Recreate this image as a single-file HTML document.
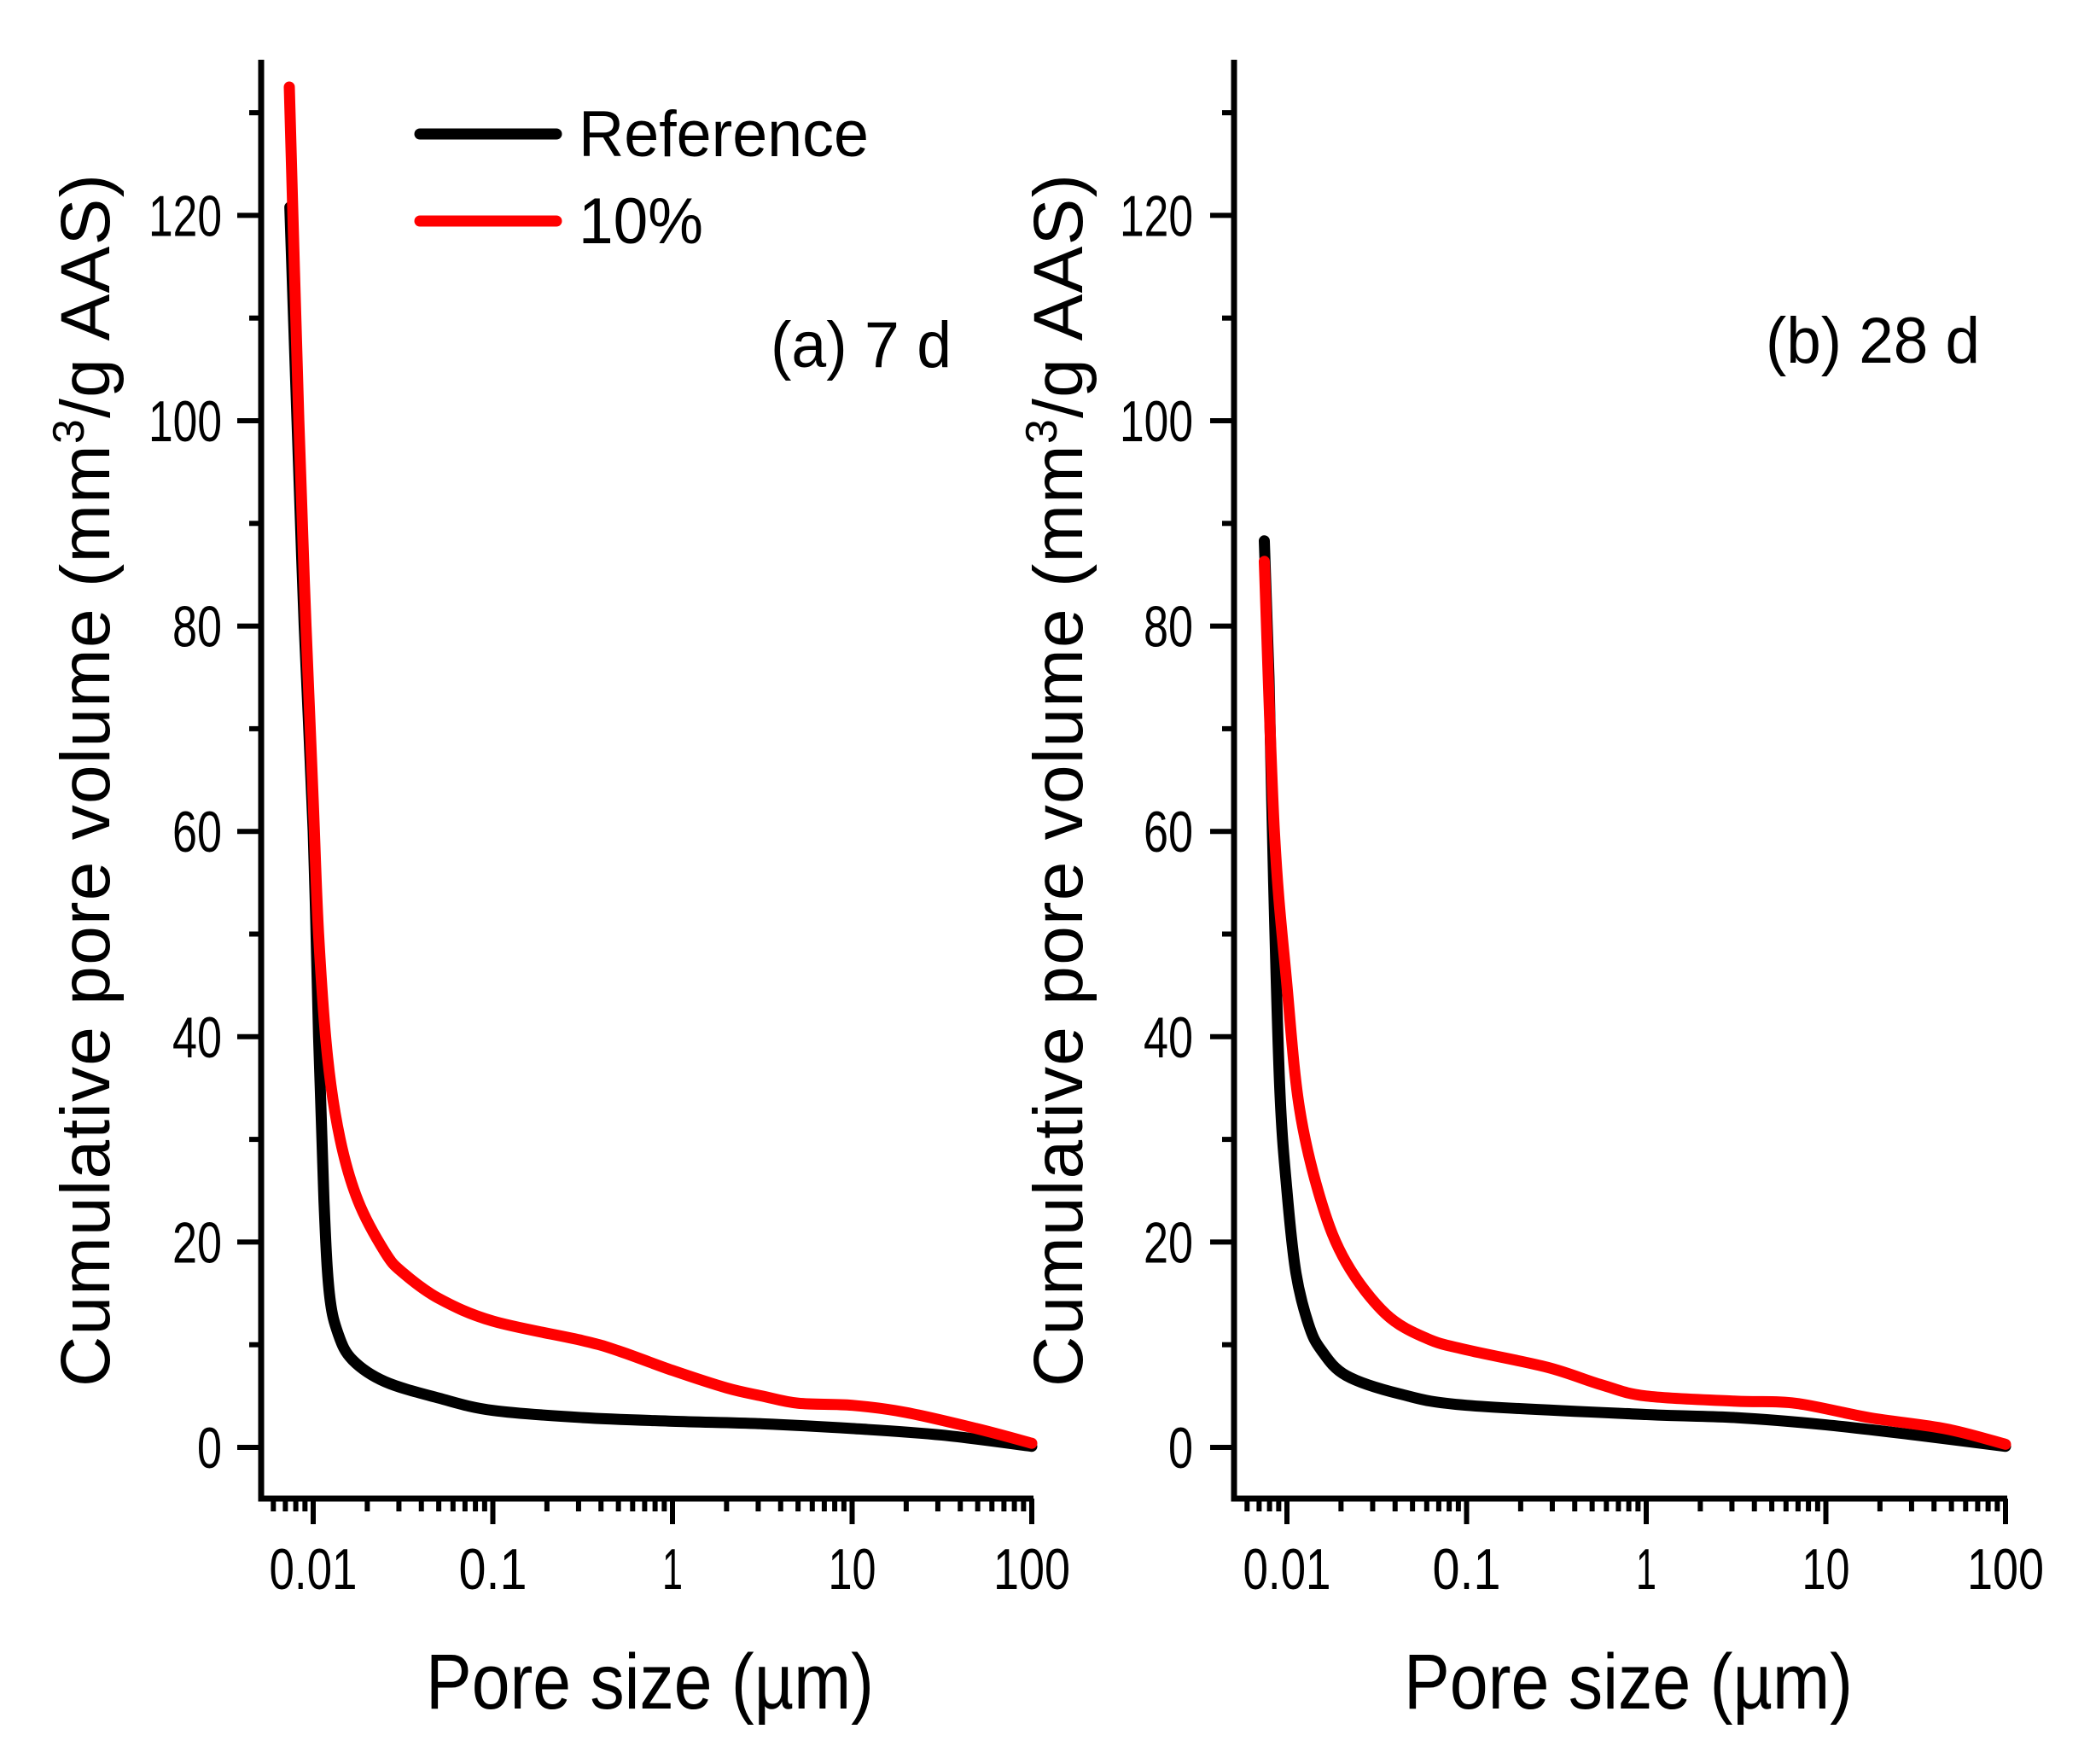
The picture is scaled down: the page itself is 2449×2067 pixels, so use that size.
<!DOCTYPE html>
<html><head><meta charset="utf-8">
<style>html,body{margin:0;padding:0;background:#fff}svg{display:block}</style>
</head><body>
<svg id="s" width="2449" height="2067" viewBox="0 0 2449 2067" xmlns="http://www.w3.org/2000/svg" font-family="Liberation Sans, Arial, sans-serif">
<rect width="2449" height="2067" fill="#fff"/>
<g id="ax"></g>
<g id="cv" fill="none" stroke-linejoin="round" stroke-linecap="round" stroke-width="13"></g>
<!-- legend -->
<line x1="492" y1="157" x2="652" y2="157" stroke="#000" stroke-width="13" stroke-linecap="round"/>
<line x1="492" y1="259" x2="652" y2="259" stroke="#f00" stroke-width="13" stroke-linecap="round"/>
<text x="678" y="183" font-size="76" textLength="340" lengthAdjust="spacingAndGlyphs">Reference</text>
<text x="678" y="285" font-size="76" textLength="146" lengthAdjust="spacingAndGlyphs">10%</text>
<text x="903" y="430" font-size="76" textLength="212" lengthAdjust="spacingAndGlyphs">(a) 7 d</text>
<text x="2069" y="425" font-size="76" textLength="251" lengthAdjust="spacingAndGlyphs">(b) 28 d</text>
<!-- x titles -->
<text x="499" y="2002" font-size="92" textLength="525" lengthAdjust="spacingAndGlyphs">Pore size (µm)</text>
<text x="1645" y="2002" font-size="92" textLength="526" lengthAdjust="spacingAndGlyphs">Pore size (µm)</text>
<!-- y titles -->
<text transform="translate(128,1625) rotate(-90)" font-size="82" textLength="1421" lengthAdjust="spacing">Cumulative pore volume (mm<tspan dy="-30" font-size="52">3</tspan><tspan dy="30">/g AAS)</tspan></text>
<text transform="translate(1268,1625) rotate(-90)" font-size="82" textLength="1421" lengthAdjust="spacing">Cumulative pore volume (mm<tspan dy="-30" font-size="52">3</tspan><tspan dy="30">/g AAS)</tspan></text>
<g id="lbl" font-size="68"></g>
</svg>
<script>
var NS="http://www.w3.org/2000/svg";
function el(p,t,a,txt){var e=document.createElementNS(NS,t);for(var k in a)e.setAttribute(k,a[k]);if(txt!==undefined)e.textContent=txt;document.getElementById(p).appendChild(e);return e;}
var AXY=1756;
var Y=function(v){return 1696-v*12.03;};
var panels=[{ax:306,x0:367,dec:210.5,right:1211,lblR:260},{ax:1446,x0:1508,dec:210.5,right:2352,lblR:1398}];
var xl=["0.01","0.1","1","10","100"];
panels.forEach(function(p){
  var X=function(l){return p.x0+(l+2)*p.dec;};
  el("ax","line",{x1:p.ax,y1:70,x2:p.ax,y2:AXY+3.5,stroke:"#000","stroke-width":7});
  el("ax","line",{x1:p.ax-3.5,y1:AXY,x2:p.right,y2:AXY,stroke:"#000","stroke-width":7});
  for(var v=0;v<=130;v+=10){
    var maj=v%20==0;
    el("ax","line",{x1:p.ax-(maj?28:14),y1:Y(v),x2:p.ax,y2:Y(v),stroke:"#000","stroke-width":6});
    if(maj) el("lbl","text",{x:p.lblR,y:Y(v)+24,"text-anchor":"end",textLength:(v>=100?86:(v==0?29:58)),lengthAdjust:"spacingAndGlyphs"},String(v));
  }
  for(var n=-3;n<=2;n++){
    for(var k=1;k<=9;k++){
      var l=n+Math.log10(k); var x=X(l);
      if(x<p.ax+3||x>p.right+1)continue;
      var maj=(k==1);
      el("ax","line",{x1:x,y1:AXY,x2:x,y2:AXY+(maj?30:15),stroke:"#000","stroke-width":6});
      if(maj) el("lbl","text",{x:x,y:1862,"text-anchor":"middle",textLength:[103,80,24,56,90][n+2],lengthAdjust:"spacingAndGlyphs"},xl[n+2]);
    }
  }
  p.X=X;
});
function path(pts,X){
  var P=pts.map(function(q){return [X(q[0]),Y(q[1])];});
  var d="M"+P[0][0]+","+P[0][1];
  for(var i=0;i<P.length-1;i++){
    var p0=P[Math.max(0,i-1)],p1=P[i],p2=P[i+1],p3=P[Math.min(P.length-1,i+2)];
    var c1=[p1[0]+(p2[0]-p0[0])/6,p1[1]+(p2[1]-p0[1])/6];
    var c2=[p2[0]-(p3[0]-p1[0])/6,p2[1]-(p3[1]-p1[1])/6];
    d+=" C"+c1[0]+","+c1[1]+" "+c2[0]+","+c2[1]+" "+p2[0]+","+p2[1];
  }
  return d;
}
var aB=[[-2.13,120.8],[-2.09,100],[-2.05,80],[-2.0,60],[-1.97,40],[-1.94,24],[-1.91,15],[-1.86,11],[-1.78,8.5],[-1.6,6.4],[-1.3,4.8],[-1,3.6],[-0.5,2.9],[0,2.55],[0.5,2.3],[1,1.84],[1.5,1.2],[2,0.1]];
var aR=[[-2.133,132.5],[-2.08,100],[-2.04,80],[-2.0,63],[-1.97,50],[-1.92,38],[-1.85,30],[-1.75,24],[-1.6,19],[-1.5,17],[-1.3,14.5],[-1,12.3],[-0.5,10.4],[-0.3,9.4],[0,7.5],[0.3,5.8],[0.5,5],[0.7,4.3],[1,4.1],[1.3,3.4],[1.7,1.8],[2,0.4]];
var bB=[[-2.126,88.3],[-2.1,75],[-2.074,55],[-2.04,35],[-2.0,25],[-1.95,17],[-1.88,12],[-1.81,9.5],[-1.67,7],[-1.37,5.2],[-1,4.1],[0,3.2],[0.5,2.9],[1,2.2],[1.5,1.2],[2,0.1]];
var bR=[[-2.126,86.3],[-2.07,60],[-2.0,45],[-1.93,33],[-1.81,24],[-1.67,18],[-1.45,13],[-1.22,10.6],[-1,9.5],[-0.55,7.8],[-0.25,6.1],[0,5],[0.5,4.5],[0.83,4.3],[1.24,2.9],[1.67,1.8],[2,0.3]];
el("cv","path",{d:path(aB,panels[0].X),stroke:"#000"});
el("cv","path",{d:path(aR,panels[0].X),stroke:"#f00"});
el("cv","path",{d:path(bB,panels[1].X),stroke:"#000"});
el("cv","path",{d:path(bR,panels[1].X),stroke:"#f00"});
</script>
</body></html>
